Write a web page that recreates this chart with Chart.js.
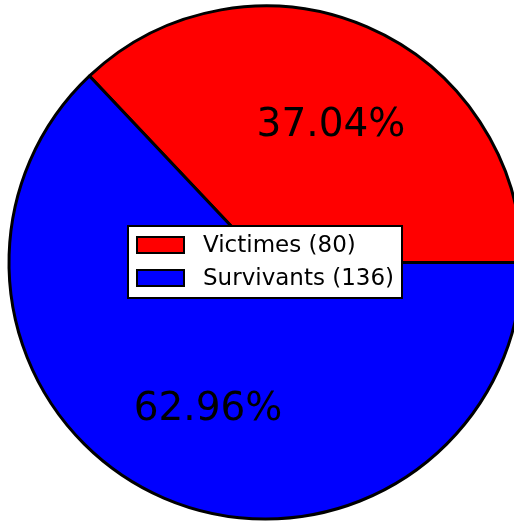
<!DOCTYPE html>
<html>
<head>
<meta charset="utf-8">
<script src="https://cdn.jsdelivr.net/npm/chart.js@4/dist/chart.umd.min.js"></script>
<style>
  html, body { margin: 0; padding: 0; background: #fff; }
  #wrap { width: 514px; height: 522px; overflow: hidden; position: relative; }
  #myChart { position: absolute; left: 0; top: 0; }
</style>
</head>
<body>
<div id="wrap"><canvas id="myChart" width="531" height="525"></canvas></div>
<script>
var categories = ['Victimes', 'Survivants'];
var counts = [80, 136];
var sliceColors = ['#ff0000', '#0000ff'];

var total = counts.reduce(function (a, b) { return a + b; }, 0);
var legendLabels = categories.map(function (c, i) { return c + ' (' + counts[i] + ')'; });

// percent labels at ~0.6 of the radius, like matplotlib's autopct
var pctLabels = {
  id: 'pctLabels',
  afterDatasetsDraw: function (chart) {
    var ctx = chart.ctx;
    var arcs = chart.getDatasetMeta(0).data;
    ctx.save();
    ctx.fillStyle = '#000';
    ctx.font = '39px "DejaVu Sans"';
    ctx.textAlign = 'center';
    ctx.textBaseline = 'alphabetic';
    arcs.forEach(function (arc, i) {
      var p = arc.getProps(['x', 'y', 'startAngle', 'endAngle', 'outerRadius'], true);
      var mid = (p.startAngle + p.endAngle) / 2;
      var r = p.outerRadius * 0.605;
      var txt = (counts[i] / total * 100).toFixed(2) + '%';
      ctx.fillText(txt, p.x + Math.cos(mid) * r + 4, p.y + Math.sin(mid) * r + 15.5);
    });
    ctx.restore();
  }
};

// boxed legend in the middle of the pie
var centerLegend = {
  id: 'centerLegend',
  afterDraw: function (chart) {
    var ctx = chart.ctx;
    var x0 = 128, y0 = 226, w = 274, h = 72;
    ctx.save();
    ctx.fillStyle = '#fff';
    ctx.fillRect(x0, y0, w, h);
    ctx.lineWidth = 2;
    ctx.strokeStyle = '#000';
    ctx.strokeRect(x0, y0, w, h);
    ctx.font = '23px "DejaVu Sans"';
    ctx.textBaseline = 'middle';
    legendLabels.forEach(function (lab, i) {
      var cy = 245 + i * 33;
      ctx.fillStyle = sliceColors[i];
      ctx.fillRect(137, cy - 8, 47, 16);
      ctx.strokeRect(137, cy - 8, 47, 16);
      ctx.fillStyle = '#000';
      ctx.fillText(lab, 203, cy + 1);
    });
    ctx.restore();
  }
};

new Chart('myChart', {
  type: 'pie',
  data: {
    labels: legendLabels,
    datasets: [
      {
        data: counts,
        backgroundColor: sliceColors,
        borderColor: '#000',
        borderWidth: 3
      }
    ]
  },
  options: {
    responsive: false,
    animation: false,
    radius: 256.5,
    rotation: 90 - 360 * counts[0] / total,
    layout: { padding: 0 },
    plugins: {
      legend: { display: false },
      tooltip: { enabled: false }
    }
  },
  plugins: [pctLabels, centerLegend]
});
</script>
</body>
</html>
